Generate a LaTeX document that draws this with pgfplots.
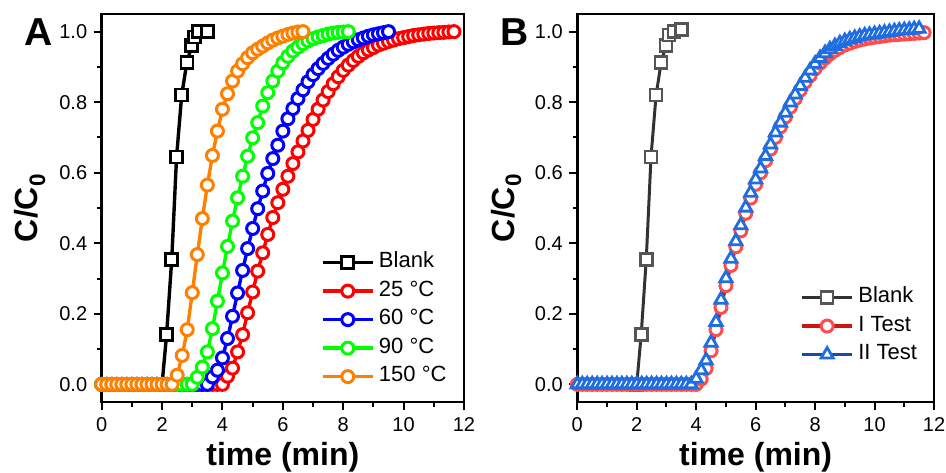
\documentclass[border=0pt]{standalone}
\usepackage{fontspec}
\setmainfont{Liberation Sans}
\usepackage{pgfplots}
\pgfplotsset{compat=1.18}

\definecolor{cRed}{RGB}{255,0,0}
\definecolor{cBlue}{RGB}{0,0,255}
\definecolor{cGreen}{RGB}{0,255,0}
\definecolor{cOrange}{RGB}{255,128,0}
\definecolor{bRedLine}{RGB}{204,20,20}
\definecolor{bRedMark}{RGB}{255,77,77}
\definecolor{bBlueLine}{RGB}{25,75,160}
\definecolor{bBlueMark}{RGB}{30,110,225}
\definecolor{bGrayLine}{RGB}{50,50,50}
\definecolor{bGrayMark}{RGB}{85,85,85}

\pgfplotsset{
  panel/.style={
    scale only axis, height=388pt,
    xmin=0, xmax=12, ymin=-0.05, ymax=1.05,
    xtick={0,2,...,12}, ytick={0,0.2,0.4,0.6,0.8,1.0},
    minor x tick num=1, minor y tick num=1,
    tick align=outside, tick pos=left,
    major tick length=8pt, minor tick length=4.5pt,
    tick style={black, line width=2pt},
    axis line style={line width=2.5pt},
    ticklabel style={font=\fontsize{20}{24}\selectfont},
    /pgf/number format/assume math mode=true,
    xticklabel style={yshift=-4pt},
    yticklabel style={xshift=-3pt, /pgf/number format/.cd, fixed, fixed zerofill, precision=1},
    xlabel={time (min)},
    ylabel={C/C\textsubscript{0}},
    label style={font=\fontsize{32}{38}\selectfont\bfseries},
    xlabel style={at={(axis description cs:0.5,0)}, anchor=base, yshift=-63pt},
    legend cell align=left,
    legend style={draw=none, fill=none, inner sep=0pt, row sep=5pt, column sep=3pt,
      font=\fontsize{22}{26}\selectfont,
      nodes={inner sep=1.5pt, text height=15.5pt, text depth=5pt}},
    legend image code/.code={\draw[mark repeat=2,mark phase=2,#1]
      plot coordinates {(0pt,0pt) (25pt,0pt) (50pt,0pt)};},
    clip=false,
  },
  circ/.style={line width=3.4pt, mark=*, mark size=6pt,
    mark options={line width=3pt, fill=white, solid}},
}

\begin{document}
\begin{tikzpicture}
\path[use as bounding box] (0,0) rectangle (946pt,472pt);

% ---------------- panel A ----------------
\begin{axis}[panel, width=362.3pt, at={(101.7pt,70pt)}, anchor=south west,
  ylabel style={at={(axis description cs:-0.176,0.5)}, anchor=base},
  legend style={at={(0.605,0.39)}, anchor=north west}]

\addplot[black, line width=3.4pt, mark=square*, mark size=6pt,
  mark options={line width=2.6pt, fill=white, solid}] coordinates {
  (2.0,0) (2.15,0.142) (2.32,0.354) (2.48,0.645) (2.65,0.82)
  (2.82,0.912) (2.98,0.96) (3.08,0.985) (3.2,1.0) (3.5,1.0)};
\addlegendentry{Blank}

\addplot[cRed, circ] coordinates {
  (0,0) (0.167,0) (0.333,0) (0.5,0) (0.667,0) (0.833,0) (1.0,0) (1.167,0)
  (1.333,0) (1.5,0) (1.667,0) (1.833,0) (2.0,0) (2.167,0) (2.333,0) (2.5,0)
  (2.667,0) (2.833,0) (3.0,0) (3.167,0) (3.333,0) (3.5,0) (3.667,0) (3.833,0)
  (4.0,0) (4.167,0.023) (4.333,0.046) (4.5,0.092) (4.667,0.141) (4.833,0.203)
  (5.0,0.262) (5.167,0.321) (5.333,0.373) (5.5,0.425) (5.667,0.473)
  (5.833,0.515) (6.0,0.553) (6.167,0.59) (6.333,0.626) (6.5,0.659)
  (6.667,0.69) (6.833,0.72) (7.0,0.751) (7.167,0.78) (7.333,0.806)
  (7.5,0.83) (7.667,0.852) (7.833,0.872) (8.0,0.89) (8.167,0.905)
  (8.333,0.918) (8.5,0.93) (8.667,0.94) (8.833,0.948) (9.0,0.955)
  (9.167,0.962) (9.333,0.967) (9.5,0.972) (9.667,0.976) (9.833,0.98)
  (10.0,0.983) (10.167,0.986) (10.333,0.989) (10.5,0.991) (10.667,0.993)
  (10.833,0.995) (11.0,0.996) (11.167,0.997) (11.333,0.998) (11.5,0.999)
  (11.667,1.0)};
\addlegendentry{25 °C}

\addplot[cBlue, circ] coordinates {
  (0,0) (0.167,0) (0.333,0) (0.5,0) (0.667,0) (0.833,0) (1.0,0) (1.167,0)
  (1.333,0) (1.5,0) (1.667,0) (1.833,0) (2.0,0) (2.167,0) (2.333,0) (2.5,0)
  (2.667,0) (2.833,0) (3.0,0) (3.167,0) (3.333,0) (3.5,0)
  (3.667,0.021) (3.833,0.04) (4.0,0.075) (4.167,0.13) (4.333,0.193)
  (4.5,0.259) (4.667,0.323) (4.833,0.385) (5.0,0.442) (5.167,0.498)
  (5.333,0.548) (5.5,0.598) (5.667,0.64) (5.833,0.678) (6.0,0.718)
  (6.167,0.753) (6.333,0.782) (6.5,0.81) (6.667,0.835) (6.833,0.858)
  (7.0,0.878) (7.167,0.895) (7.333,0.91) (7.5,0.924) (7.667,0.936)
  (7.833,0.947) (8.0,0.956) (8.167,0.964) (8.333,0.971) (8.5,0.977)
  (8.667,0.982) (8.833,0.987) (9.0,0.991) (9.167,0.994) (9.333,0.997)
  (9.5,1.0)};
\addlegendentry{60 °C}

\addplot[cGreen, circ] coordinates {
  (0,0) (0.167,0) (0.333,0) (0.5,0) (0.667,0) (0.833,0) (1.0,0) (1.167,0)
  (1.333,0) (1.5,0) (1.667,0) (1.833,0) (2.0,0) (2.167,0) (2.333,0) (2.5,0)
  (2.667,0) (2.833,0) (3.0,0)
  (3.167,0.02) (3.333,0.049) (3.5,0.092) (3.667,0.158) (3.833,0.236)
  (4.0,0.316) (4.167,0.391) (4.333,0.463) (4.5,0.529) (4.667,0.59)
  (4.833,0.647) (5.0,0.699) (5.167,0.742) (5.333,0.789) (5.5,0.827)
  (5.667,0.86) (5.833,0.888) (6.0,0.912) (6.167,0.93) (6.333,0.945)
  (6.5,0.956) (6.667,0.966) (6.833,0.974) (7.0,0.98) (7.167,0.985)
  (7.333,0.989) (7.5,0.993) (7.667,0.996) (7.833,0.998) (8.0,0.999)
  (8.167,1.0)};
\addlegendentry{90 °C}

\addplot[cOrange, circ] coordinates {
  (0,0) (0.167,0) (0.333,0) (0.5,0) (0.667,0) (0.833,0) (1.0,0) (1.167,0)
  (1.333,0) (1.5,0) (1.667,0) (1.833,0) (2.0,0) (2.167,0) (2.333,0)
  (2.5,0.026) (2.667,0.082) (2.833,0.155) (3.0,0.26) (3.167,0.368)
  (3.333,0.47) (3.5,0.565) (3.667,0.649) (3.833,0.718) (4.0,0.78)
  (4.167,0.824) (4.333,0.86) (4.5,0.888) (4.667,0.909) (4.833,0.926)
  (5.0,0.94) (5.167,0.95) (5.333,0.959) (5.5,0.968) (5.667,0.976)
  (5.833,0.982) (6.0,0.987) (6.167,0.992) (6.333,0.996) (6.5,0.999)
  (6.667,1.0)};
\addlegendentry{150 °C}
\end{axis}

% ---------------- panel B ----------------
\begin{axis}[panel, width=356.7pt, at={(577.3pt,70pt)}, anchor=south west,
  ylabel style={at={(axis description cs:-0.177,0.5)}, anchor=base},
  legend style={at={(0.625,0.30)}, anchor=north west}]

\addplot[bGrayLine, line width=3pt, mark=square*, mark size=6pt,
  mark options={draw=bGrayMark, line width=2.6pt, fill=white, solid}] coordinates {
  (2.0,0) (2.15,0.142) (2.32,0.354) (2.48,0.645) (2.65,0.82)
  (2.82,0.912) (2.98,0.96) (3.08,0.99) (3.25,1.0) (3.5,1.006)};
\addlegendentry{Blank}

\addplot[bRedLine, line width=3.4pt, mark=*, mark size=6pt,
  mark options={draw=bRedMark, line width=3pt, fill=white, solid}] coordinates {
  (0,0) (0.167,0) (0.333,0) (0.5,0) (0.667,0) (0.833,0) (1.0,0) (1.167,0)
  (1.333,0) (1.5,0) (1.667,0) (1.833,0) (2.0,0) (2.167,0) (2.333,0) (2.5,0)
  (2.667,0) (2.833,0) (3.0,0) (3.167,0) (3.333,0) (3.5,0) (3.667,0) (3.833,0)
  (4.0,0) (4.167,0.015) (4.333,0.045) (4.5,0.095) (4.667,0.155)
  (4.833,0.218) (5.0,0.28) (5.167,0.337) (5.333,0.39) (5.5,0.435)
  (5.667,0.485) (5.833,0.528) (6.0,0.567) (6.167,0.6) (6.333,0.634)
  (6.5,0.667) (6.667,0.7) (6.833,0.73) (7.0,0.758) (7.167,0.786)
  (7.333,0.81) (7.5,0.834) (7.667,0.857) (7.833,0.876) (8.0,0.895)
  (8.167,0.911) (8.333,0.925) (8.5,0.937) (8.667,0.947) (8.833,0.955)
  (9.0,0.962) (9.167,0.967) (9.333,0.972) (9.5,0.976) (9.667,0.979)
  (9.833,0.982) (10.0,0.984) (10.167,0.986) (10.333,0.988) (10.5,0.99)
  (10.667,0.991) (10.833,0.992) (11.0,0.993) (11.167,0.994) (11.333,0.995)
  (11.5,0.996) (11.667,0.997)};
\addlegendentry{I Test}

\addplot[bBlueLine, line width=3.4pt, mark=triangle*, mark size=7pt,
  mark options={draw=bBlueMark, line width=2.8pt, fill=white, solid}] coordinates {
  (0,0) (0.167,0) (0.333,0) (0.5,0) (0.667,0) (0.833,0) (1.0,0) (1.167,0)
  (1.333,0) (1.5,0) (1.667,0) (1.833,0) (2.0,0) (2.167,0) (2.333,0) (2.5,0)
  (2.667,0) (2.833,0) (3.0,0) (3.167,0) (3.333,0) (3.5,0) (3.667,0) (3.833,0)
  (4.0,0.016) (4.167,0.04) (4.333,0.068) (4.5,0.118) (4.667,0.177)
  (4.833,0.24) (5.0,0.301) (5.167,0.356) (5.333,0.406) (5.5,0.451)
  (5.667,0.501) (5.833,0.543) (6.0,0.581) (6.167,0.612) (6.333,0.647)
  (6.5,0.68) (6.667,0.714) (6.833,0.742) (7.0,0.77) (7.167,0.799)
  (7.333,0.822) (7.5,0.846) (7.667,0.869) (7.833,0.89) (8.0,0.909)
  (8.167,0.925) (8.333,0.939) (8.5,0.95) (8.667,0.959) (8.833,0.967)
  (9.0,0.973) (9.167,0.978) (9.333,0.982) (9.5,0.986) (9.667,0.989)
  (9.833,0.991) (10.0,0.993) (10.167,0.995) (10.333,0.997) (10.5,0.999)
  (10.667,1.001) (10.833,1.003) (11.0,1.004) (11.167,1.005) (11.333,1.007)
  (11.5,1.008)};
\addlegendentry{II Test}
\end{axis}

\node[anchor=base west, inner sep=0pt, font=\fontsize{39}{44}\selectfont\bfseries]
  at (24pt,426pt) {A};
\node[anchor=base west, inner sep=0pt, font=\fontsize{39}{44}\selectfont\bfseries]
  at (500pt,426pt) {B};
\end{tikzpicture}
\end{document}
